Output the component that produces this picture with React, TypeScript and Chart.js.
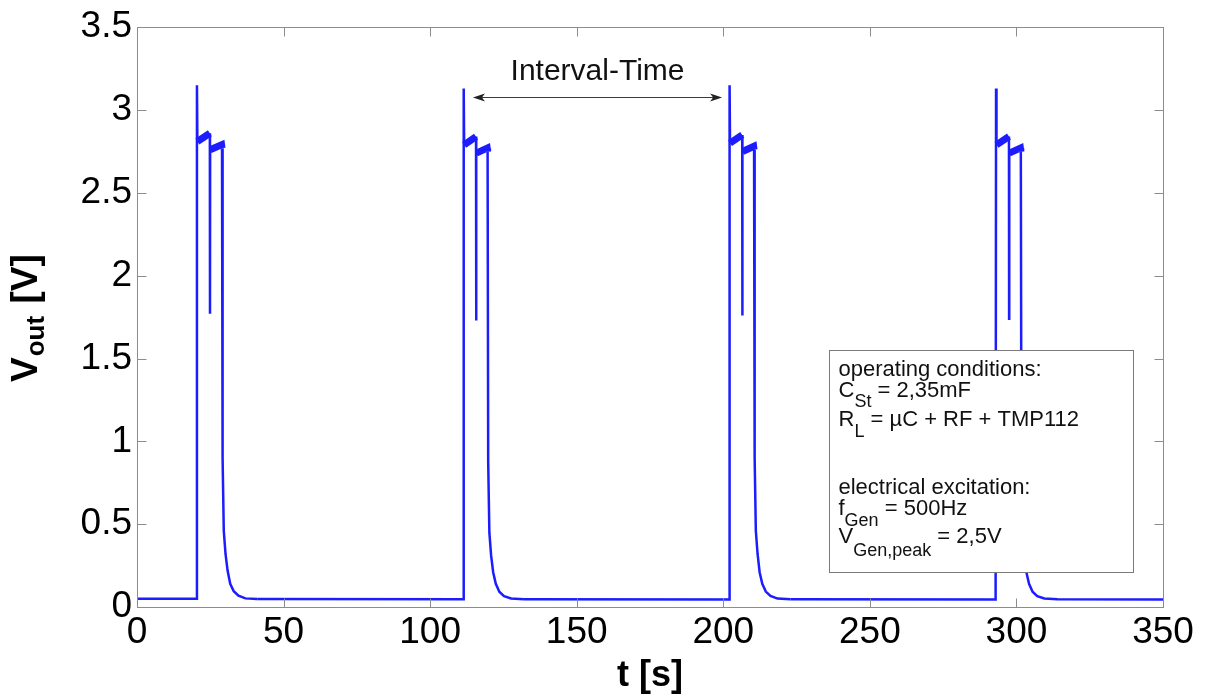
import React, { useEffect, useRef } from "react";
import { Chart, registerables } from "chart.js";

Chart.register(...registerables);

// ---------- data ----------
const xTicks = [0, 50, 100, 150, 200, 250, 300, 350];
const yTicks = [0, 0.5, 1, 1.5, 2, 2.5, 3, 3.5];

const pulse1T = [0, 20.3, 20.45, 20.6, 24.85, 24.9, 24.95, 28.85, 29.0, 29.2, 29.6, 30.2, 30.9, 31.8, 33.0, 34.6, 37.0, 41.0];
const pulse1V = [0.05, 0.05, 3.15, 2.81, 2.86, 1.77, 2.76, 2.79, 2.77, 0.9, 0.46, 0.32, 0.22, 0.14, 0.095, 0.068, 0.052, 0.048];

const pulse2T = [41.0, 111.3, 111.45, 111.6, 115.65, 115.7, 115.75, 119.45, 119.6, 119.8, 120.2, 120.8, 121.5, 122.4, 123.6, 125.2, 127.6, 132.0];
const pulse2V = [0.048, 0.047, 3.13, 2.79, 2.84, 1.73, 2.74, 2.77, 2.75, 0.88, 0.45, 0.31, 0.21, 0.14, 0.092, 0.066, 0.051, 0.047];

const pulse3T = [132.0, 202.0, 202.15, 202.3, 206.45, 206.5, 206.55, 210.35, 210.5, 210.7, 211.1, 211.7, 212.4, 213.3, 214.5, 216.1, 218.5, 223.0];
const pulse3V = [0.047, 0.046, 3.15, 2.8, 2.85, 1.76, 2.75, 2.78, 2.76, 0.9, 0.46, 0.32, 0.21, 0.14, 0.093, 0.067, 0.051, 0.047];

const pulse4T = [223.0, 292.9, 293.05, 293.2, 297.45, 297.5, 297.55, 301.35, 301.5, 301.7, 302.1, 302.7, 303.4, 304.3, 305.5, 307.1, 309.5, 314.0, 350.0];
const pulse4V = [0.047, 0.046, 3.13, 2.79, 2.84, 1.74, 2.74, 2.77, 2.75, 0.88, 0.45, 0.31, 0.21, 0.14, 0.092, 0.066, 0.051, 0.047, 0.046];

// interval annotation (data units)
const intervalStart = 114.6;
const intervalEnd = 199.6;
const intervalLevel = 3.08;
const intervalLabel = "Interval-Time";

const xTitle = "t [s]";
const yTitleMain = "V";
const yTitleSub = "out";
const yTitleRest = " [V]";

const legendHeading1 = "operating conditions:";
const legendHeading2 = "electrical excitation:";
const legendRows1 = [
  ["C", "St", " = 2,35mF"],
  ["R", "L", " = \u00b5C + RF + TMP112"],
];
const legendRows2 = [
  ["f", "Gen", " = 500Hz"],
  ["V", "Gen,peak", " = 2,5V"],
];

// ---------- styling ----------
const FONT = "'Liberation Sans', Arial, Helvetica, sans-serif";
const LINE = "#1c1cff";
const FRAME = "#8c8c8c";

const toPoints = (t: number[], v: number[]) => t.map((x, i) => ({ x, y: v[i] }));

const overlay = {
  id: "overlay",
  afterDraw(chart: any) {
    const ctx: CanvasRenderingContext2D = chart.ctx;
    const { left, right, top, bottom } = chart.chartArea;
    const xs = chart.scales.x;
    const ys = chart.scales.y;
    ctx.save();

    // frame
    const L = Math.round(left) + 0.5;
    const R = Math.round(right) + 0.5;
    const T = Math.round(top) + 0.5;
    const B = Math.round(bottom) + 0.5;
    ctx.strokeStyle = FRAME;
    ctx.lineWidth = 1;
    ctx.strokeRect(L, T, R - L, B - T);
    const tl = 9;
    ctx.beginPath();
    xTicks.forEach((v) => {
      const px = Math.round(xs.getPixelForValue(v)) + 0.5;
      ctx.moveTo(px, B);
      ctx.lineTo(px, B - tl);
      ctx.moveTo(px, T);
      ctx.lineTo(px, T + tl);
    });
    yTicks.forEach((v) => {
      const py = Math.round(ys.getPixelForValue(v)) + 0.5;
      ctx.moveTo(L, py);
      ctx.lineTo(L + tl, py);
      ctx.moveTo(R, py);
      ctx.lineTo(R - tl, py);
    });
    ctx.stroke();

    // interval arrow
    const ax0 = xs.getPixelForValue(intervalStart);
    const ax1 = xs.getPixelForValue(intervalEnd);
    const ay = Math.round(ys.getPixelForValue(intervalLevel)) + 0.5;
    ctx.strokeStyle = "#3a3a3a";
    ctx.fillStyle = "#222";
    ctx.lineWidth = 1;
    ctx.beginPath();
    ctx.moveTo(ax0 + 4, ay);
    ctx.lineTo(ax1 - 4, ay);
    ctx.stroke();
    const head = (x: number, dir: number) => {
      ctx.beginPath();
      ctx.moveTo(x, ay);
      ctx.lineTo(x + dir * 12, ay - 4);
      ctx.lineTo(x + dir * 9, ay);
      ctx.lineTo(x + dir * 12, ay + 4);
      ctx.closePath();
      ctx.fill();
    };
    head(ax0, 1);
    head(ax1, -1);
    ctx.fillStyle = "#111";
    ctx.font = `30px ${FONT}`;
    ctx.textAlign = "center";
    ctx.textBaseline = "alphabetic";
    ctx.fillText(intervalLabel, (ax0 + ax1) / 2, ay - 18);

    // legend box
    const bw = 304;
    const bh = 222;
    const bx = Math.round(right) - 30 - bw + 0.5;
    const by = Math.round(bottom) - 35 - bh + 0.5;
    ctx.fillStyle = "#ffffff";
    ctx.fillRect(bx, by, bw, bh);
    ctx.strokeStyle = "#7a7a7a";
    ctx.strokeRect(bx, by, bw, bh);

    ctx.fillStyle = "#111";
    ctx.textAlign = "left";
    const mainF = `22px ${FONT}`;
    const subF = `18px ${FONT}`;
    const tx = bx + 9;
    const row = (parts: string[], base: number, subDrop: number) => {
      ctx.font = mainF;
      ctx.fillText(parts[0], tx, base);
      let x = tx + ctx.measureText(parts[0]).width;
      ctx.font = subF;
      ctx.fillText(parts[1], x, base + subDrop);
      x += ctx.measureText(parts[1]).width;
      ctx.font = mainF;
      ctx.fillText(parts[2], x, base);
    };
    ctx.font = mainF;
    ctx.fillText(legendHeading1, tx, by + 25);
    row(legendRows1[0], by + 46, 10);
    row(legendRows1[1], by + 75, 11);
    ctx.font = mainF;
    ctx.fillText(legendHeading2, tx, by + 143);
    row(legendRows2[0], by + 164, 11);
    row(legendRows2[1], by + 192, 13);

    // x title
    ctx.fillStyle = "#000";
    ctx.font = `bold 36px ${FONT}`;
    ctx.textAlign = "center";
    ctx.fillText(xTitle, (left + right) / 2, 686);

    // y title (rotated)
    ctx.save();
    ctx.translate(37, 382);
    ctx.rotate(-Math.PI / 2);
    ctx.textAlign = "left";
    ctx.font = `bold 37px ${FONT}`;
    ctx.fillText(yTitleMain, 0, 0);
    let off = ctx.measureText(yTitleMain).width + 1;
    ctx.font = `bold 26px ${FONT}`;
    ctx.fillText(yTitleSub, off, 7);
    off += ctx.measureText(yTitleSub).width + 2;
    ctx.font = `bold 37px ${FONT}`;
    ctx.fillText(yTitleRest, off, 0);
    ctx.restore();

    ctx.restore();
  },
};

export default function App() {
  const ref = useRef<HTMLCanvasElement | null>(null);

  useEffect(() => {
    if (!ref.current) return;
    const series = [
      toPoints(pulse1T, pulse1V),
      toPoints(pulse2T, pulse2V),
      toPoints(pulse3T, pulse3V),
      toPoints(pulse4T, pulse4V),
    ];
    const chart = new Chart(ref.current, {
      type: "line",
      data: {
        datasets: series.map((d) => ({
          data: d,
          borderColor: LINE,
          borderWidth: 2.5,
          pointRadius: 0,
          tension: 0,
          fill: false,
          segment: {
            borderWidth: (c: any) => {
              const a = c.p0.parsed.y;
              const b = c.p1.parsed.y;
              return a > 2.6 && b > 2.6 && Math.abs(a - b) < 0.1 ? 7 : 2.5;
            },
          },
        })),
      },
      options: {
        animation: false,
        responsive: true,
        maintainAspectRatio: false,
        layout: { padding: { top: 23, right: 45, left: 0, bottom: 0 } },
        plugins: {
          legend: { display: false },
          tooltip: { enabled: false },
        },
        scales: {
          x: {
            type: "linear",
            min: 0,
            max: 350,
            afterBuildTicks: (s: any) => {
              s.ticks = xTicks.map((v) => ({ value: v }));
            },
            afterFit: (s: any) => {
              s.height = 90;
            },
            grid: { display: false, drawTicks: false },
            border: { display: false },
            ticks: {
              color: "#000",
              padding: 4,
              maxRotation: 0,
              autoSkip: false,
              font: { family: FONT, size: 37 },
              callback: (v: any) => String(v),
            },
          },
          y: {
            type: "linear",
            min: 0,
            max: 3.5,
            afterBuildTicks: (s: any) => {
              s.ticks = yTicks.map((v) => ({ value: v }));
            },
            afterFit: (s: any) => {
              s.width = 137;
            },
            grid: { display: false, drawTicks: false },
            border: { display: false },
            ticks: {
              color: "#000",
              padding: 5,
              autoSkip: false,
              font: { family: FONT, size: 37 },
              callback: (v: any) => String(v),
            },
          },
        },
      },
      plugins: [overlay],
    } as any);
    return () => chart.destroy();
  }, []);

  return (
    <div
      style={{
        position: "fixed",
        left: 0,
        top: 0,
        width: 1208,
        height: 697,
        background: "#fff",
      }}
    >
      <canvas ref={ref} />
    </div>
  );
}
